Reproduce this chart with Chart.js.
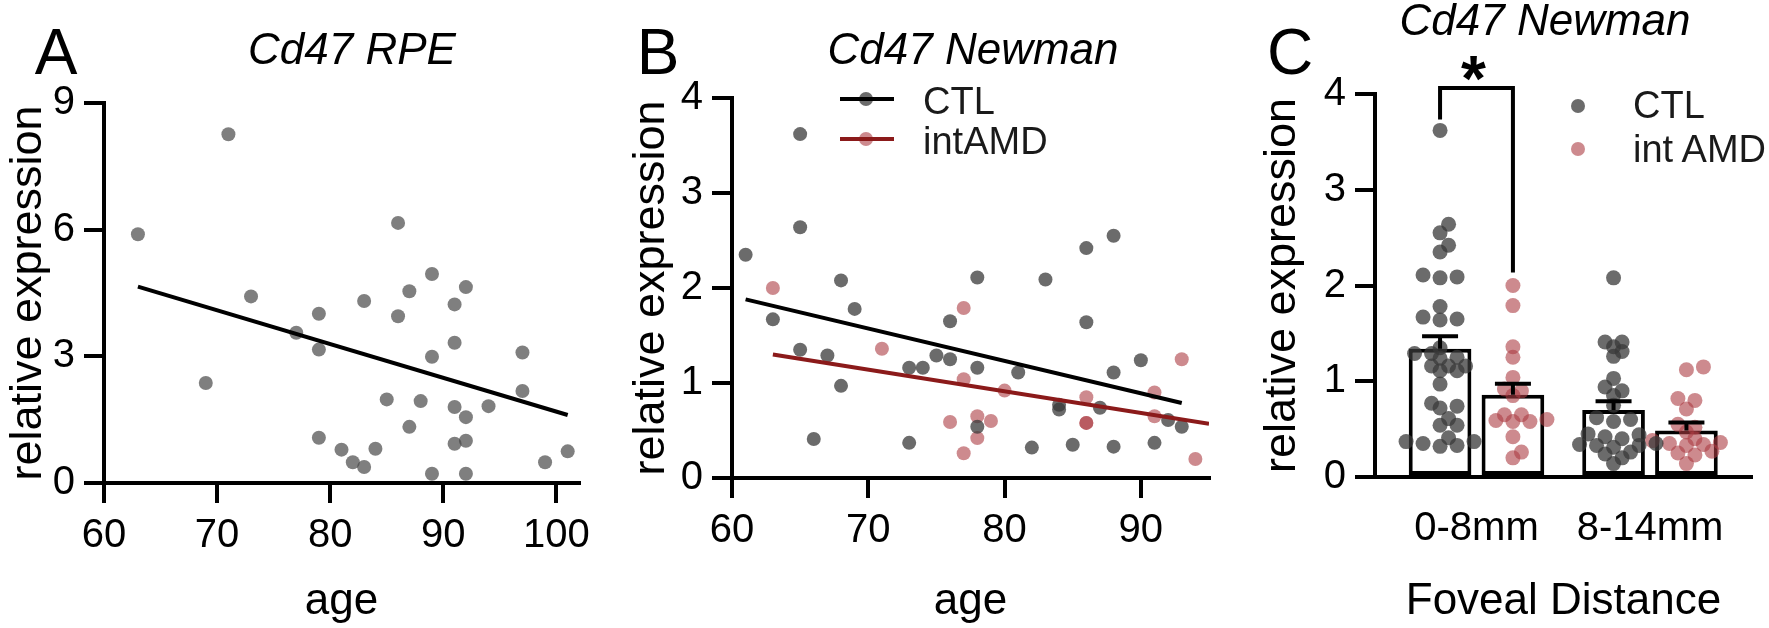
<!DOCTYPE html>
<html>
<head>
<meta charset="utf-8">
<title>Cd47 relative expression</title>
<script src="https://cdn.jsdelivr.net/npm/chart.js@4.4.1/dist/chart.umd.min.js"></script>
<style>
  html, body { margin: 0; padding: 0; background: #fff; }
  body { width: 1769px; height: 628px; position: relative; overflow: hidden;
         font-family: 'Liberation Sans', Arial, sans-serif; color: #000; }
  canvas { position: absolute; top: 0; }
  .lbl { position: absolute; line-height: 1; white-space: nowrap; }
  .mid { transform: translateX(-50%); }
  .letter { font-size: 64px; }
  .ttl { font-size: 44px; font-style: italic; }
  .leg { font-size: 38px; color: #1a1a1a; }
  .sw { position: absolute; }
  .dot { width: 14px; height: 14px; border-radius: 50%; }
</style>
</head>
<body>
<canvas id="chartA" width="600" height="628" style="left:0px"></canvas>
<canvas id="chartB" width="600" height="628" style="left:620px"></canvas>
<canvas id="chartC" width="519" height="628" style="left:1250px"></canvas>

<!-- panel letters and titles -->
<div class="lbl letter mid" style="left:56px; top:20px">A</div>
<div class="lbl letter mid" style="left:658px; top:20px">B</div>
<div class="lbl letter mid" style="left:1290px; top:20px">C</div>
<div class="lbl ttl mid" style="left:352px; top:27px">Cd47 RPE</div>
<div class="lbl ttl mid" style="left:973px; top:27px">Cd47 Newman</div>
<div class="lbl ttl mid" style="left:1545px; top:-2px">Cd47 Newman</div>

<!-- legend B -->
<div class="sw dot" style="left:859px; top:92px; background:rgba(57,57,57,0.75)"></div>
<div class="sw" style="left:840px; top:97px; width:54px; height:4px; background:#000"></div>
<div class="sw dot" style="left:859px; top:132px; background:rgba(172,60,67,0.6)"></div>
<div class="sw" style="left:840px; top:137px; width:54px; height:4px; background:#8b1a1a"></div>
<div class="lbl leg" style="left:923px; top:82px">CTL</div>
<div class="lbl leg" style="left:923px; top:122px">intAMD</div>

<!-- legend C -->
<div class="sw dot" style="left:1571px; top:99px; background:rgba(57,57,57,0.75)"></div>
<div class="sw dot" style="left:1571px; top:142px; background:rgba(172,60,67,0.6)"></div>
<div class="lbl leg" style="left:1633px; top:86px">CTL</div>
<div class="lbl leg" style="left:1633px; top:130px">int AMD</div>

<script>
// ---- Panel A: Cd47 RPE vs age ----
const rpeAge  = [63, 69, 71, 73, 77, 79, 79, 79, 81, 82, 83, 83, 84, 85, 86, 86, 87, 87,
                 88, 89, 89, 89, 91, 91, 91, 91, 92, 92, 92, 92, 94, 97, 97, 99, 101];
const rpeExpr = [5.89, 2.37, 8.26, 4.42, 3.56, 4.01, 3.16, 1.07, 0.79, 0.49, 0.38, 4.31, 0.81, 1.98, 6.16, 3.95, 4.54, 1.33,
                 1.94, 4.95, 2.99, 0.22, 4.23, 3.32, 1.80, 0.93, 4.64, 1.56, 1.00, 0.22, 1.82, 3.09, 2.18, 0.49, 0.75];
const rpeFitAge  = [63, 101];
const rpeFitExpr = [4.65, 1.61];

// ---- Panel B: Cd47 Newman vs age ----
const ctlAge  = [61, 63, 65, 65, 65, 66, 67, 68, 68, 69, 73, 73, 74, 75, 76, 76, 78, 78,
                 78, 81, 82, 83, 84, 84, 85, 86, 86, 87, 88, 88, 88, 90, 91, 92, 93];
const ctlExpr = [2.35, 1.67, 3.62, 2.64, 1.35, 0.41, 1.29, 2.08, 0.97, 1.78, 1.16, 0.37, 1.16, 1.29, 1.65, 1.25, 2.11, 1.16,
                 0.54, 1.11, 0.32, 2.09, 0.77, 0.72, 0.35, 2.42, 1.64, 0.74, 2.55, 1.11, 0.33, 1.24, 0.37, 0.61, 0.54];
const amdAge  = [63, 71, 76, 77, 77, 77, 78, 78, 79, 80, 86, 86, 86, 91, 91, 93, 94];
const amdExpr = [2.00, 1.36, 0.59, 1.79, 1.04, 0.26, 0.65, 0.42, 0.60, 0.92, 0.85, 0.58, 0.58, 0.90, 0.65, 1.25, 0.20];
const ctlFitAge = [61, 93],  ctlFitExpr = [1.88, 0.79];
const amdFitAge = [63, 95],  amdFitExpr = [1.30, 0.57];

// ---- Panel C: by foveal distance (0-8mm values are the panel B samples) ----
const distances = ['0-8mm', '8-14mm'];
const ctlMean = [1.34, 0.70];
const ctlSem  = [0.13, 0.09];
const amdMean = [0.86, 0.485];
const amdSem  = [0.115, 0.085];
const ctlFar = [2.08, 1.41, 1.41, 1.36, 1.31, 1.26, 1.03, 0.94, 0.90, 0.85, 0.75, 0.62, 0.60, 0.58,
                0.45, 0.44, 0.42, 0.40, 0.35, 0.34, 0.33, 0.33, 0.31, 0.26, 0.24, 0.20, 0.14];
const amdFar = [1.15, 1.12, 0.82, 0.80, 0.71, 0.55, 0.52, 0.47, 0.40, 0.38, 0.36, 0.35, 0.34, 0.33,
                0.27, 0.25, 0.23, 0.14];
const ctlDots = [ctlExpr, ctlFar];
const amdDots = [amdExpr, amdFar];

const GRAY_A = 'rgba(73,73,73,0.7)';
const GRAY = 'rgba(57,57,57,0.75)';
const PINK = 'rgba(172,60,67,0.6)';
const DARKRED = '#8b1a1a';

Chart.defaults.font.family = "'Liberation Sans', Arial, sans-serif";
Chart.defaults.color = '#000';
Chart.defaults.animation = false;
Chart.defaults.plugins.legend.display = false;
Chart.defaults.plugins.tooltip.enabled = false;

const pts = (xs, ys) => xs.map((x, i) => ({ x: x, y: ys[i] }));

function yAxis(min, max, step, width, titlePad) {
  return {
    min: min, max: max,
    ticks: { stepSize: step, padding: 9, font: { size: 40 } },
    grid: { drawOnChartArea: false, color: '#000', lineWidth: 4, tickLength: 20 },
    border: { color: '#000', width: 4 },
    title: { display: true, text: 'relative expression', font: { size: 45 }, padding: { top: titlePad, bottom: 0 } },
    afterFit: s => { s.width = width; }
  };
}

function ageAxis(min, max, height) {
  return {
    type: 'linear', min: min, max: max,
    ticks: { stepSize: 10, includeBounds: false, padding: 9, font: { size: 40 } },
    grid: { drawOnChartArea: false, color: '#000', lineWidth: 4, tickLength: 20 },
    border: { color: '#000', width: 4 },
    title: { display: true, text: 'age', font: { size: 44 }, padding: { top: 0, bottom: 0 } },
    afterFit: s => { s.height = height; }
  };
}

// A
new Chart(document.getElementById('chartA'), {
  type: 'scatter',
  data: {
    datasets: [
      { type: 'line', data: pts(rpeFitAge, rpeFitExpr), borderColor: '#000', borderWidth: 4, pointRadius: 0, order: 0 },
      { data: pts(rpeAge, rpeExpr), backgroundColor: GRAY_A, pointRadius: 7, borderWidth: 0, clip: false, order: 1 }
    ]
  },
  options: {
    responsive: false,
    layout: { padding: { left: 0, right: 21, top: 103, bottom: 0 } },
    scales: { x: ageAxis(60, 102, 145), y: yAxis(0, 9, 3, 104, 1.5) }
  }
});

// B
new Chart(document.getElementById('chartB'), {
  type: 'scatter',
  data: {
    datasets: [
      { type: 'line', data: pts(ctlFitAge, ctlFitExpr), borderColor: '#000', borderWidth: 4, pointRadius: 0, order: 0 },
      { type: 'line', data: pts(amdFitAge, amdFitExpr), borderColor: DARKRED, borderWidth: 4, pointRadius: 0, order: 0 },
      { label: 'CTL', data: pts(ctlAge, ctlExpr), backgroundColor: GRAY, pointRadius: 7, borderWidth: 0, clip: false, order: 1 },
      { label: 'intAMD', data: pts(amdAge, amdExpr), backgroundColor: PINK, pointRadius: 7, borderWidth: 0, clip: false, order: 1 }
    ]
  },
  options: {
    responsive: false,
    layout: { padding: { left: 0, right: 11, top: 98, bottom: 0 } },
    scales: { x: ageAxis(60, 95, 150), y: yAxis(0, 4, 1, 112, 5) }
  }
});

// C: error bars, significance bracket
const extras = {
  id: 'extras',
  afterDatasetsDraw(chart) {
    const ctx = chart.ctx, y = chart.scales.y;
    ctx.save();
    ctx.strokeStyle = '#000';
    ctx.lineWidth = 4;
    [[0, ctlMean, ctlSem], [1, amdMean, amdSem]].forEach(([di, mean, sem]) => {
      chart.getDatasetMeta(di).data.forEach((bar, i) => {
        const top = y.getPixelForValue(mean[i] + sem[i]);
        ctx.beginPath();
        ctx.moveTo(bar.x, bar.y);
        ctx.lineTo(bar.x, top);
        ctx.moveTo(bar.x - 18, top);
        ctx.lineTo(bar.x + 18, top);
        ctx.stroke();
      });
    });
    // bracket over 0-8mm group
    const x1 = chart.getDatasetMeta(0).data[0].x;
    const x2 = chart.getDatasetMeta(1).data[0].x;
    const top = y.getPixelForValue(y.max) - 6;
    ctx.beginPath();
    ctx.moveTo(x1, y.getPixelForValue(Math.max(...ctlDots[0])) - 11);
    ctx.lineTo(x1, top);
    ctx.lineTo(x2, top);
    ctx.lineTo(x2, y.getPixelForValue(Math.max(...amdDots[0])) - 13);
    ctx.stroke();
    ctx.fillStyle = '#000';
    ctx.font = "bold 64px 'Liberation Sans', Arial, sans-serif";
    ctx.textAlign = 'center';
    ctx.textBaseline = 'alphabetic';
    ctx.fillText('*', (x1 + x2) / 2 - 3, top + 13);
    ctx.restore();
  }
};

const chartC = new Chart(document.getElementById('chartC'), {
  type: 'bar',
  data: {
    datasets: [
      { label: 'CTL', data: distances.map((d, i) => ({ x: i, y: ctlMean[i] })), backgroundColor: '#fff',
        borderColor: '#000', borderWidth: 4, borderSkipped: false, categoryPercentage: 0.84, barPercentage: 0.86, order: 2 },
      { label: 'int AMD', data: distances.map((d, i) => ({ x: i, y: amdMean[i] })), backgroundColor: '#fff',
        borderColor: '#000', borderWidth: 4, borderSkipped: false, categoryPercentage: 0.84, barPercentage: 0.86, order: 2 },
      { type: 'scatter', data: [], backgroundColor: GRAY, pointRadius: 7.5, borderWidth: 0, clip: false, order: 1 },
      { type: 'scatter', data: [], backgroundColor: PINK, pointRadius: 7.5, borderWidth: 0, clip: false, order: 1 }
    ]
  },
  options: {
    responsive: false,
    layout: { padding: { left: 0, right: 17, top: 94, bottom: 0 } },
    scales: {
      x: {
        type: 'linear', min: -0.585, max: 1.588, offset: false,
        afterBuildTicks: s => { s.ticks = distances.map((d, i) => ({ value: i })); },
        ticks: { padding: 28, font: { size: 40 }, callback: v => distances[v] },
        grid: { display: false, drawTicks: false, tickLength: 0, offset: false },
        border: { color: '#000', width: 4 },
        title: { display: true, text: 'Foveal Distance', font: { size: 44 }, padding: { top: 0, bottom: 0 } },
        afterFit: s => { s.height = 151; }
      },
      y: yAxis(0, 4, 1, 125, 6)
    }
  },
  plugins: [extras]
});

// beeswarm placement of the individual samples around each bar
function swarmOffsets(values, yScale, step, minDist) {
  const idx = values.map((_, i) => i).sort((a, b) => values[a] - values[b]);
  const placed = [], offs = [];
  idx.forEach(i => {
    const py = yScale.getPixelForValue(values[i]);
    let off = 0;
    for (let k = 0; k < 40; k++) {
      off = Math.ceil(k / 2) * step * (k % 2 ? 1 : -1);
      if (placed.every(p => Math.hypot(p.x - off, p.y - py) >= minDist)) break;
    }
    placed.push({ x: off, y: py });
    offs[i] = off;
  });
  return offs;
}

function placeDots(chart, barIndex, groups) {
  const xs = chart.scales.x, ys = chart.scales.y;
  const bars = chart.getDatasetMeta(barIndex).data;
  const out = [];
  groups.forEach((vals, g) => {
    const offs = swarmOffsets(vals, ys, 8.5, 9.5);
    vals.forEach((v, i) => out.push({ x: xs.getValueForPixel(bars[g].x + offs[i]), y: v }));
  });
  return out;
}

chartC.data.datasets[2].data = placeDots(chartC, 0, ctlDots);
chartC.data.datasets[3].data = placeDots(chartC, 1, amdDots);
chartC.update();
</script>
</body>
</html>
